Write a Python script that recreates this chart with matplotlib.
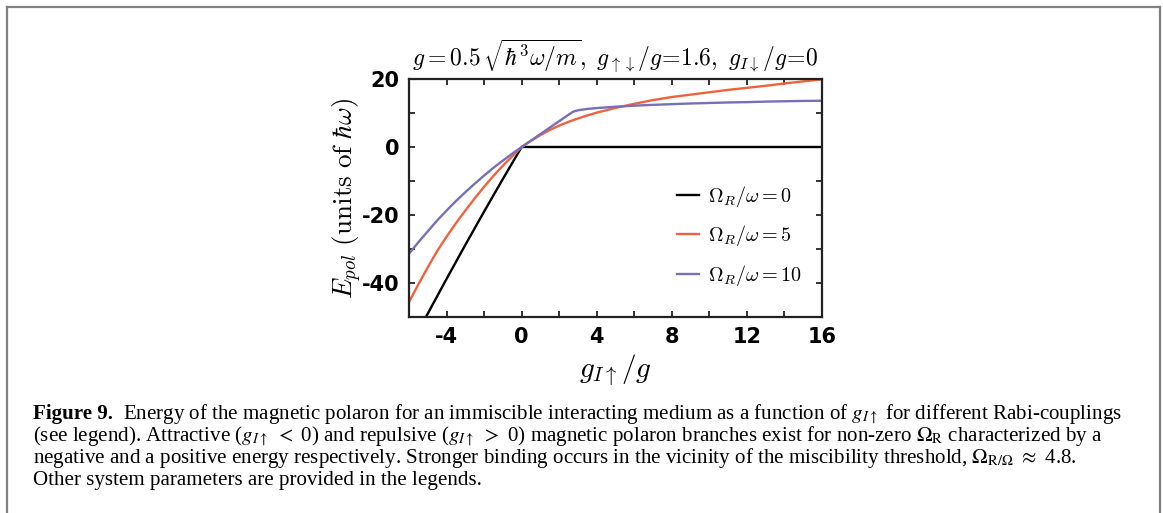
import matplotlib
matplotlib.use("Agg")
import matplotlib.pyplot as plt
from matplotlib.lines import Line2D

# values
g_neg = [-6, -5.5, -5, -4.5, -4, -3.5, -3, -2.5, -2, -1.5, -1, -0.5, 0]
g_pos = [0.5, 1, 1.5, 2, 2.5, 2.75, 3, 3.5, 4, 5, 6, 7, 8, 9, 10, 11, 12, 13, 14, 15, 16]

e_rabi0_neg = [-59, -54, -49, -43.9, -38.8, -33.8, -28.8, -23.9, -19, -14.2, -9.4, -4.7, 0]
e_rabi0_pos = [0] * 21
e_rabi5_neg = [-45.6, -40.4, -35.4, -30.6, -26.4, -22.4, -18.7, -15.1, -11.7, -8.5, -5.5, -2.7, 0]
e_rabi5_pos = [1.8, 3.5, 5.0, 6.3, 7.4, 7.9, 8.4, 9.3, 10.1, 11.5, 12.7, 13.8, 14.7, 15.4, 16.1,
               16.8, 17.4, 18.0, 18.7, 19.3, 19.9]
e_rabi10_neg = [-31.4, -28.0, -24.8, -21.6, -18.7, -15.9, -13.3, -10.8, -8.4, -6.1, -4.0, -1.95, 0]
e_rabi10_pos = [1.9, 3.8, 5.7, 7.6, 9.5, 10.4, 10.8, 11.2, 11.45, 11.85, 12.15, 12.4, 12.6, 12.8, 12.95,
                13.1, 13.2, 13.35, 13.45, 13.55, 13.6]

labels = [r"$\Omega_R/\omega=0$", r"$\Omega_R/\omega=5$", r"$\Omega_R/\omega=10$"]
colors = ["black", "#f2613d", "#7570b8"]

caption = [
    r"Energy of the magnetic polaron for an immiscible interacting medium as a function of $g_{I\uparrow}$ for different Rabi-couplings",
    r"(see legend). Attractive ($g_{I\uparrow}$ $<$ 0) and repulsive ($g_{I\uparrow}$ $>$ 0) magnetic polaron branches exist for non-zero $\Omega_\mathrm{R}$ characterized by a",
    r"negative and a positive energy respectively. Stronger binding occurs in the vicinity of the miscibility threshold, $\Omega_{\mathrm{R}/\Omega}$ $\approx$ 4.8.",
    "Other system parameters are provided in the legends.",
]

plt.rcParams["mathtext.fontset"] = "cm"
plt.rcParams["axes.unicode_minus"] = False

W, H = 1163, 513
fig = plt.figure(figsize=(W / 100, H / 100), dpi=100)
ax = fig.add_axes([409 / W, 1 - 317 / H, 413 / W, 238 / H])

g = g_neg + g_pos
series = [e_rabi0_neg + e_rabi0_pos, e_rabi5_neg + e_rabi5_pos, e_rabi10_neg + e_rabi10_pos]
for e, c, lab in zip(series, colors, labels):
    ax.plot(g, e, color=c, lw=1.7, label=lab)

ax.set_xlim(-6, 16)
ax.set_ylim(-50, 20)
ax.set_xticks([-4, 0, 4, 8, 12, 16])
ax.set_xticks(range(-6, 17, 2), minor=True)
ax.set_yticks([-40, -20, 0, 20])
ax.set_yticks(range(-50, 21, 10), minor=True)
ax.tick_params(which="both", direction="in", top=True, right=True, length=4.5, width=1.3, color="#222222")
ax.tick_params(which="major", labelsize=15, pad=7)
for lbl in ax.get_xticklabels() + ax.get_yticklabels():
    lbl.set_fontweight("bold")
for s in ax.spines.values():
    s.set_linewidth(1.6)
    s.set_color("#222222")

ax.set_title(r"$g=0.5\,\sqrt{\hbar^3\omega/m},\ g_{\uparrow\downarrow}/g\!=\!1.6,\ g_{I\downarrow}/g\!=\!0$",
             fontsize=17, pad=10)
ax.set_xlabel(r"$g_{I\uparrow}/g$", fontsize=21, labelpad=4)
ax.set_ylabel(r"$E_{pol}\ \mathrm{(units\ of\ }\hbar\omega\mathrm{)}$", fontsize=19.5, labelpad=-2)

ax.legend(loc="center left", bbox_to_anchor=((667 - 409) / 413, (317 - 236) / 238), frameon=False,
          fontsize=14.5, borderpad=0, handlelength=1.1, handletextpad=0.45, labelspacing=0.72)

# grey frame around figure + caption
frame_kw = dict(color="#808080", lw=1.6, transform=fig.transFigure)
fig.add_artist(Line2D([7 / W, 7 / W], [1 - 7 / H, -0.1], **frame_kw))
fig.add_artist(Line2D([7 / W, 1160 / W], [1 - 7 / H, 1 - 7 / H], **frame_kw))
fig.add_artist(Line2D([1160 / W, 1160 / W], [1 - 7 / H, -0.1], **frame_kw))

# caption
cap_kw = dict(family="Liberation Serif", fontsize=15.1, va="baseline", math_fontfamily="stix")
x0 = 33 / W
bold = fig.text(x0, 1 - 419 / H, "Figure 9.", fontweight="bold", **cap_kw)
renderer = fig.canvas.get_renderer()
bb = bold.get_window_extent(renderer)
fig.text(bb.x1 / W + 10 / W, 1 - 419 / H, caption[0], **cap_kw)
for i, line in enumerate(caption[1:]):
    fig.text(x0, 1 - (441 + 22 * i) / H, line, **cap_kw)

fig.savefig("out.png", dpi=100)
